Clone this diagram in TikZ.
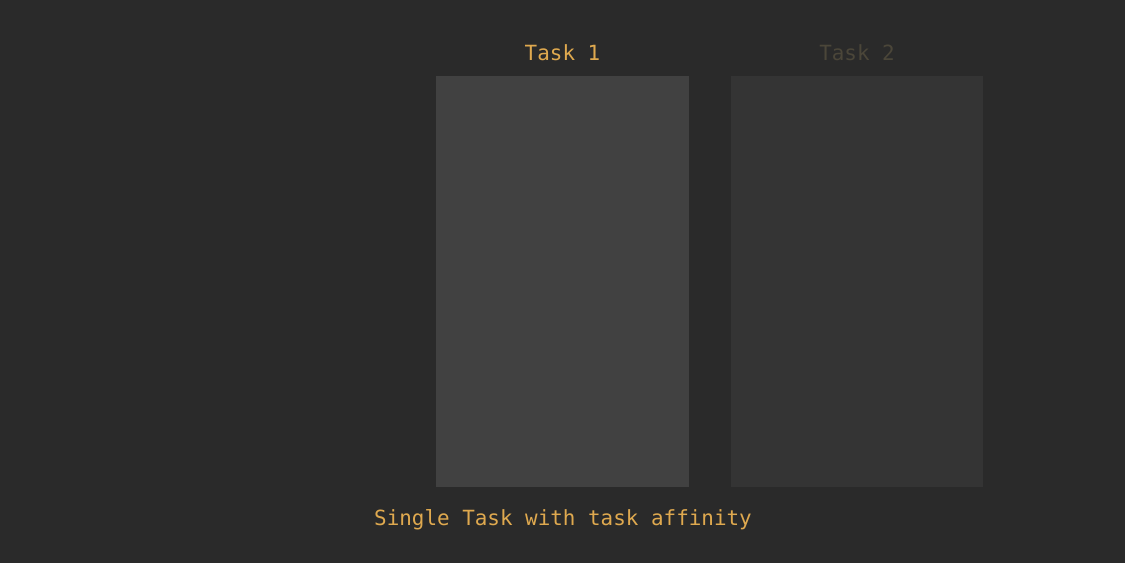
\documentclass[tikz,border=0pt]{standalone}
\usepackage{fontspec}
\setmonofont{DejaVu Sans Mono}
\usepackage{xcolor}
\usepackage{tikz}

\definecolor{sfondo}{HTML}{2A2A2A}
\definecolor{attivo}{HTML}{414141}
\definecolor{inattivo}{HTML}{343434}
\definecolor{arancio}{HTML}{DFA94F}
\definecolor{spento}{HTML}{4B4639}

\begin{document}
\begin{tikzpicture}[x=0.02cm, y=-0.02cm,
        colonna/.style={rectangle, minimum width=5.06cm, minimum height=8.22cm, inner sep=0pt},
        etichetta/.style={font=\ttfamily\fontsize{11.9}{14}\selectfont, inner sep=0pt}]
        % Sfondo
        \fill[sfondo] (0,0) rectangle (1125,563);
    
        % Colonne dei task
        \node[colonna, fill=attivo] (task1) at (562.5, 281.5) {};
        \node[colonna, fill=inattivo] (task2) at (857, 281.5) {};
    
        % Titoli
        \node[etichetta, text=arancio] (titolo1) at (562.5, 52.5) {Task 1};
        \node[etichetta, text=spento] (titolo2) at (857, 52.5) {Task 2};
    
        % Didascalia
        \node[etichetta, text=arancio] (didascalia) at (563, 519.5) {Single Task with task affinity};
    \end{tikzpicture}
\end{document}
